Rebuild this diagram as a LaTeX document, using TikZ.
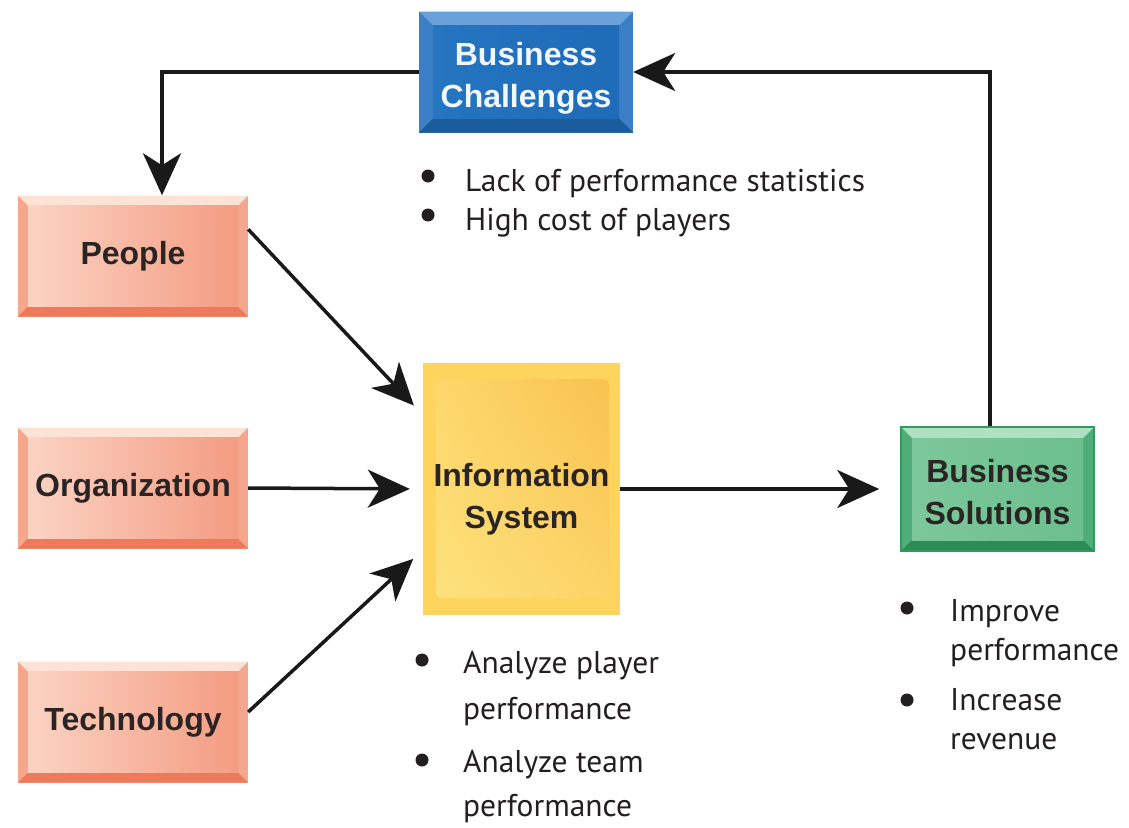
\documentclass[tikz,border=0pt]{standalone}
\usepackage{fontspec}
\setmainfont{Liberation Sans}
\newfontfamily\bulletfont{PT Sans}
\usepackage{xcolor}
\usetikzlibrary{arrows.meta, positioning, shadings}

\definecolor{labeltext}{HTML}{2A2425}
\definecolor{itemc}{HTML}{231F20}
\definecolor{bctext}{HTML}{F0F7FF}
% blue
\definecolor{bcside}{HTML}{3B7FC6}
\definecolor{bctop}{HTML}{6AA1DA}
\definecolor{bcbot}{HTML}{1A5C9C}
\definecolor{bcleft}{HTML}{2675C1}
\definecolor{bcright}{HTML}{1E6BB8}
% pink
\definecolor{pkside}{HTML}{F5A68C}
\definecolor{pktop}{HTML}{FDE2D6}
\definecolor{pkbot}{HTML}{EE7A5C}
\definecolor{pkleft}{HTML}{FBD3C3}
\definecolor{pkright}{HTML}{F49C82}
% green
\definecolor{gnside}{HTML}{4FAE78}
\definecolor{gntop}{HTML}{B0E0C2}
\definecolor{gnbot}{HTML}{2B8C55}
\definecolor{gnleft}{HTML}{7CC79B}
\definecolor{gnright}{HTML}{6CBF8E}
\definecolor{gnline}{HTML}{2F9A5E}
% yellow
\definecolor{ysys}{HTML}{FDD45E}
\definecolor{yul}{HTML}{FDD86C}
\definecolor{yur}{HTML}{F8BF4C}
\definecolor{yll}{HTML}{FDE37F}
\definecolor{ylr}{HTML}{FCD468}

\begin{document}
\begin{tikzpicture}[
    x=1pt, y=-1pt,
    >={Stealth[length=42pt, width=38pt, inset=12pt]},
    link/.style={->, line width=3.5pt, draw=black!90},
    blockbox/.style={inner sep=0pt, align=center, text=labeltext,
        font=\fontsize{32}{42}\selectfont\bfseries},
    bevel/.style n args={6}{
        fill=#1,
        path picture={
            \fill[#2] (path picture bounding box.north west) -- (path picture bounding box.north east)
                -- ([xshift=-#6, yshift=-#6]path picture bounding box.north east)
                -- ([xshift=#6, yshift=-#6]path picture bounding box.north west) -- cycle;
            \fill[#3] (path picture bounding box.south west) -- (path picture bounding box.south east)
                -- ([xshift=-#6, yshift=#6]path picture bounding box.south east)
                -- ([xshift=#6, yshift=#6]path picture bounding box.south west) -- cycle;
            \shade[left color=#4, right color=#5]
                ([xshift=#6, yshift=-#6]path picture bounding box.north west)
                rectangle ([xshift=-#6, yshift=#6]path picture bounding box.south east);
        }
    },
    pinkbox/.style={blockbox, minimum width=230pt, minimum height=121pt,
        bevel={pkside}{pktop}{pkbot}{pkleft}{pkright}{10pt}},
    sysbox/.style={blockbox, minimum width=197pt, minimum height=252pt, fill=ysys,
        path picture={
            \shade[rounded corners=6pt, upper left=yul, upper right=yur, lower left=yll, lower right=ylr]
                ([xshift=13pt, yshift=-16pt]path picture bounding box.north west)
                rectangle ([xshift=-11pt, yshift=17pt]path picture bounding box.south east);
        }},
    bulletdot/.style={circle, fill=itemc, inner sep=0pt, minimum size=13pt},
    itemtext/.style={inner sep=0pt, anchor=base west, align=left, text=itemc,
        font=\bulletfont\fontsize{31.5}{#1}\selectfont}
]
\useasboundingbox (0,0) rectangle (1129,827);

% Boxes
\node[blockbox, minimum width=214pt, minimum height=121pt, text=bctext, text height=70pt, text depth=0pt,
    bevel={bcside}{bctop}{bcbot}{bcleft}{bcright}{14pt}] (challenges) at (526,72) {Business\\Challenges};
\node[pinkbox] (people) at (133,256) {People};
\node[pinkbox] (organization) at (133,488) {Organization};
\node[pinkbox] (technology) at (133,722) {Technology};
\node[sysbox, text height=79pt, text depth=0pt] (system) at (521.5,489) {Information\\System};
\node[blockbox, minimum width=193pt, minimum height=124pt, draw=gnline, line width=1.5pt,
    text height=71pt, text depth=0pt,
    bevel={gnside}{gntop}{gnbot}{gnleft}{gnright}{11pt}] (solutions) at (997.5,489) {Business\\Solutions};

% Connectors
\draw[link] (challenges.west) -| ([xshift=29pt]people.north);
\draw[link] ([xshift=-7.5pt]solutions.north) |- (challenges.east);
\draw[link, shorten >=13pt] ([yshift=-34pt]people.north east) -- ([yshift=74pt]system.west);
\draw[link, shorten >=13pt] (organization.east) -- (system.west);
\draw[link, shorten >=13pt] ([yshift=10pt]technology.east) -- ([yshift=-61pt]system.west);
\draw[link, shorten >=21pt] (system.east) -- (solutions.west);

% Bullet lists
\node[bulletdot] (bcdot1) at (428,176) {};
\node[bulletdot] (bcdot2) at (428,215) {};
\node[itemtext=40] (bcitem1) at (465,191) {Lack of performance statistics};
\node[itemtext=40] (bcitem2) at (465,230) {High cost of players};

\node[bulletdot] (isdot1) at (422,660) {};
\node[bulletdot] (isdot2) at (422,760) {};
\node[itemtext=46] (isitem1) at (463,719) {Analyze player\\performance};
\node[itemtext=44] (isitem2) at (463,816) {Analyze team\\performance};

\node[bulletdot] (bsdot1) at (907,608) {};
\node[bulletdot] (bsdot2) at (907,700) {};
\node[itemtext=39] (bsitem1) at (950,660) {Improve\\performance};
\node[itemtext=39] (bsitem2) at (950,749) {Increase\\revenue};
\end{tikzpicture}
\end{document}
